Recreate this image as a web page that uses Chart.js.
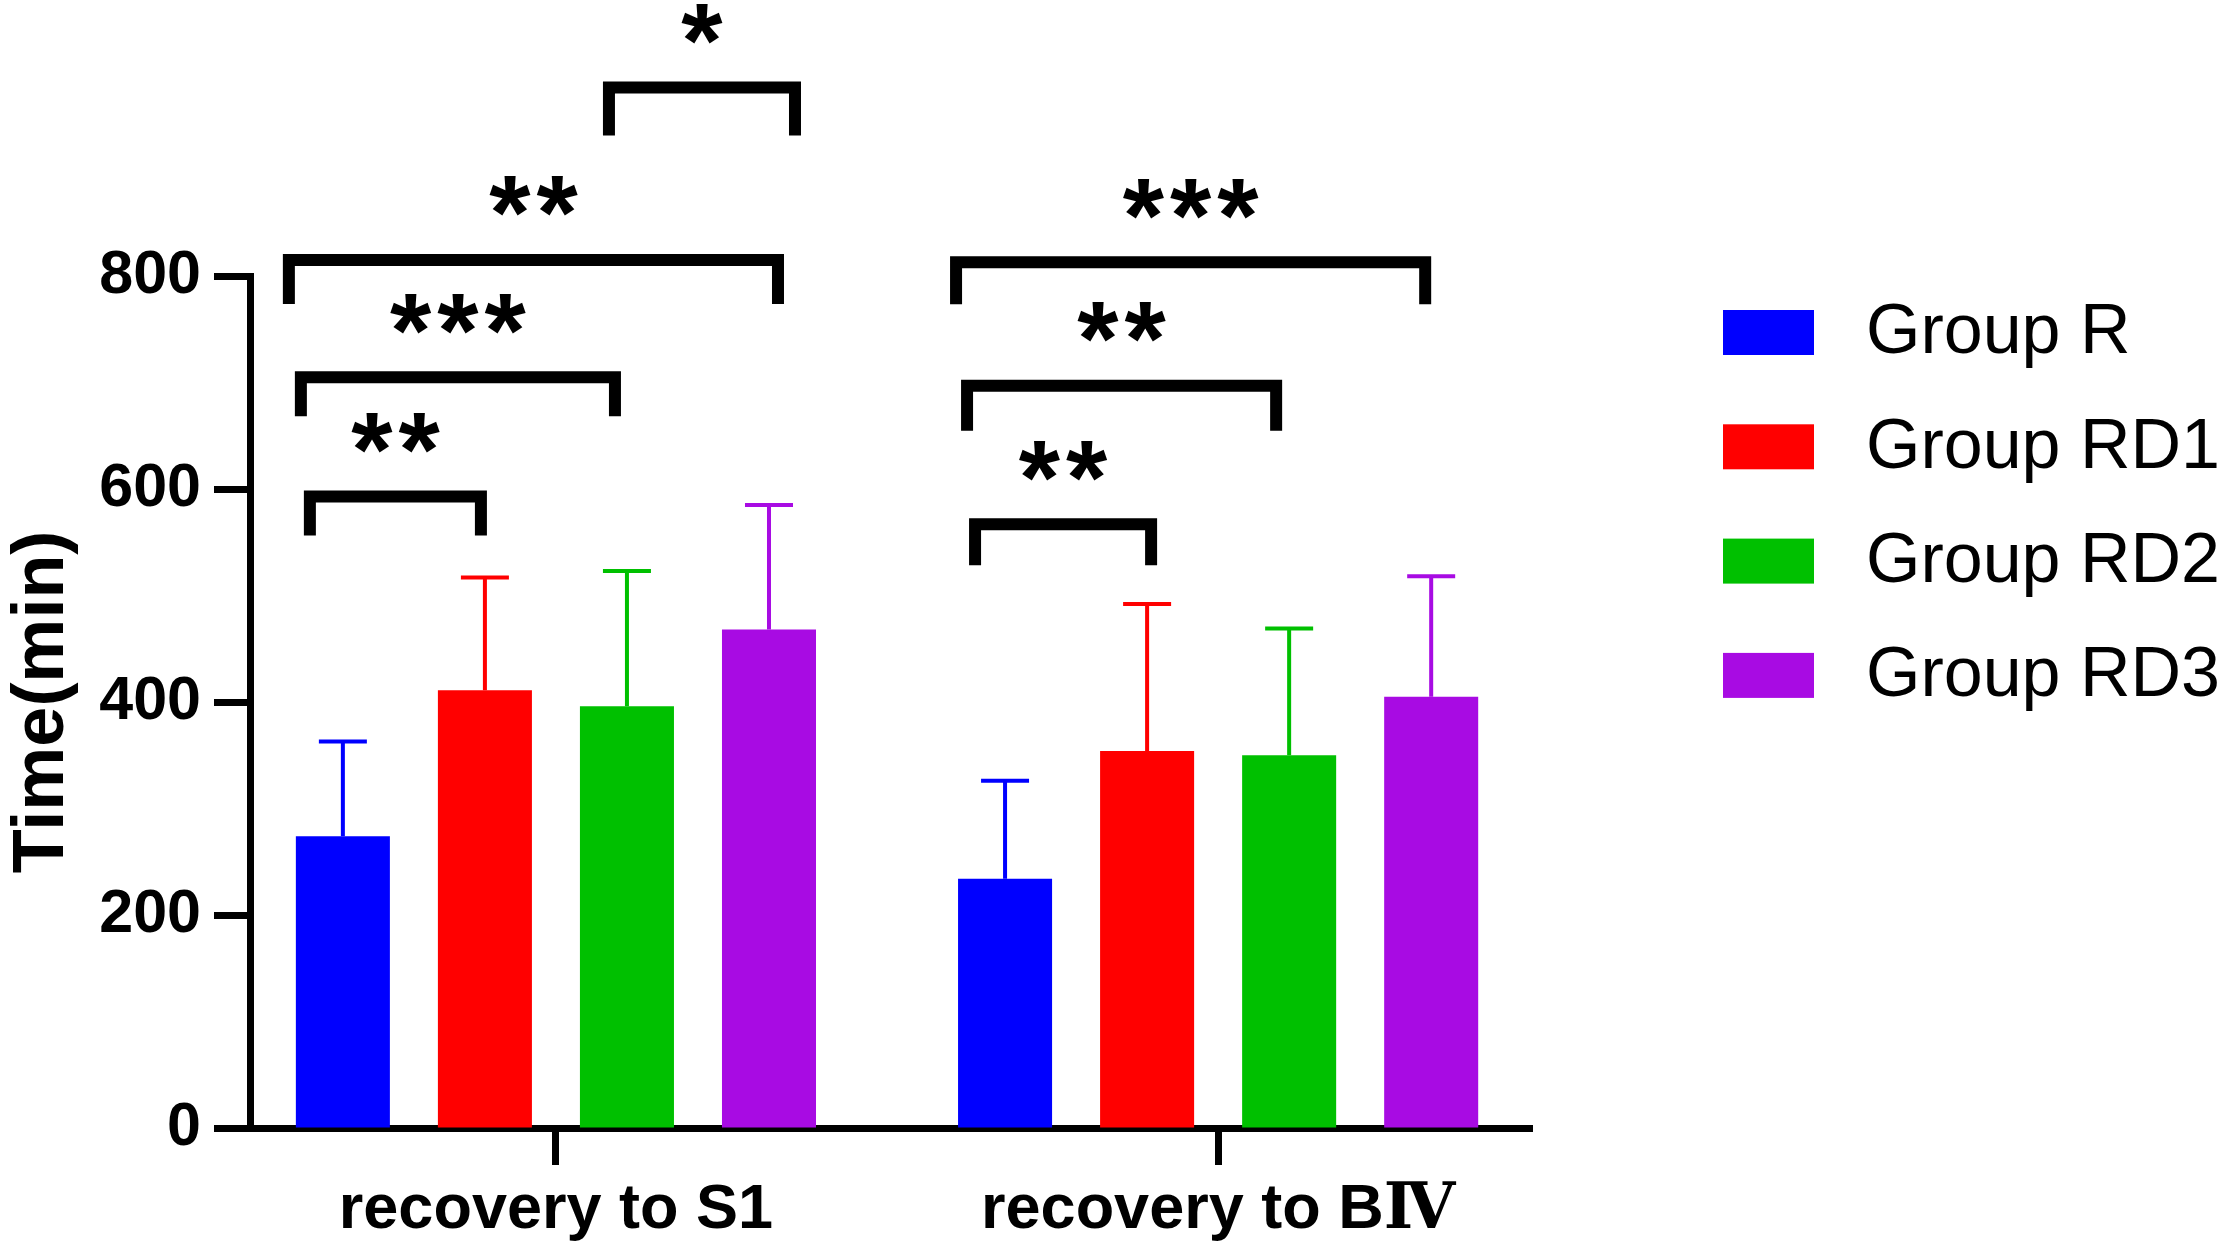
<!DOCTYPE html>
<html>
<head>
<meta charset="utf-8">
<script src="https://cdn.jsdelivr.net/npm/chart.js@4.4.1/dist/chart.umd.min.js"></script>
<style>
html, body { margin: 0; padding: 0; background: #fff; }
#wrap { width: 2228px; height: 1250px; }
</style>
</head>
<body>
<div id="wrap"><canvas id="chart" width="2228" height="1250"></canvas></div>
<script>
// Data
const categories = ['recovery to S1', 'recovery to BⅣ'];
const groupNames = ['Group R', 'Group RD1', 'Group RD2', 'Group RD3'];
const groupR = [274, 234];
const groupRD1 = [411, 354];
const groupRD2 = [396, 350];
const groupRD3 = [468, 405];
const sdR = [89, 92];
const sdRD1 = [106, 138];
const sdRD2 = [127, 119];
const sdRD3 = [117, 113];
const yTicks = [0, 200, 400, 600, 800];

// significance comparisons: category, group a, group b, label, bracket level (min)
const sigCategory = [0, 0, 0, 0, 1, 1, 1];
const sigFrom = [0, 0, 0, 2, 0, 0, 0];
const sigTo = [1, 2, 3, 3, 1, 2, 3];
const sigLabel = ['**', '***', '**', '*', '**', '**', '***'];
const sigLevel = [593, 705, 815, 977, 567, 697, 813];

const means = [groupR, groupRD1, groupRD2, groupRD3];
const sds = [sdR, sdRD1, sdRD2, sdRD3];
const colors = ['#0000ff', '#ff0000', '#00c000', '#a80be3'];

// bracket leg nudges (px) relative to bar centres, and leg drop
const legNudge = [[-33, -4], [-42, -12], [-54, 9], [-18, 26], [-30, 4], [-38, -13], [-49, -6]];
const legDrop = [39, 39, 44, 48, 41, 45, 42];

const FONT = "'Liberation Sans', 'DejaVu Serif', 'Noto Sans CJK SC', sans-serif";

const errorBars = {
    id: 'errorBars',
    afterDatasetsDraw(chart) {
        const ctx = chart.ctx;
        const y = chart.scales.y;
        ctx.save();
        means.forEach((m, i) => {
            const meta = chart.getDatasetMeta(i);
            meta.data.forEach((bar, j) => {
                const top = y.getPixelForValue(m[j] + sds[i][j]);
                ctx.strokeStyle = colors[i];
                ctx.lineWidth = 4;
                ctx.beginPath();
                ctx.moveTo(bar.x, bar.y);
                ctx.lineTo(bar.x, top);
                ctx.moveTo(bar.x - 24, top);
                ctx.lineTo(bar.x + 24, top);
                ctx.stroke();
            });
        });
        ctx.restore();
    }
};

const brackets = {
    id: 'brackets',
    afterDraw(chart) {
        const ctx = chart.ctx;
        const y = chart.scales.y;
        ctx.save();
        ctx.strokeStyle = '#000';
        ctx.fillStyle = '#000';
        ctx.lineWidth = 12;
        ctx.lineCap = 'butt';
        ctx.lineJoin = 'miter';
        sigLabel.forEach((lab, k) => {
            const c = sigCategory[k];
            const a = chart.getDatasetMeta(sigFrom[k]).data[c];
            const b = chart.getDatasetMeta(sigTo[k]).data[c];
            const x1 = a.x + legNudge[k][0];
            const x2 = b.x + legNudge[k][1];
            const yt = y.getPixelForValue(sigLevel[k]);
            const yb = yt + legDrop[k];
            ctx.beginPath();
            ctx.moveTo(x1, yb);
            ctx.lineTo(x1, yt);
            ctx.lineTo(x2, yt);
            ctx.lineTo(x2, yb);
            ctx.stroke();

            ctx.font = 'bold 106px ' + FONT;
            ctx.letterSpacing = '6px';
            ctx.textAlign = 'center';
            ctx.textBaseline = 'alphabetic';
            const cy = yt - 71;
            ctx.fillText(lab, (x1 + x2) / 2 + 3, cy + 0.57 * 106);
        });
        ctx.restore();
    }
};

const sideLegend = {
    id: 'sideLegend',
    afterDraw(chart) {
        const ctx = chart.ctx;
        ctx.save();
        ctx.font = '70px ' + FONT;
        ctx.textAlign = 'left';
        ctx.textBaseline = 'middle';
        chart.data.datasets.forEach((ds, i) => {
            const top = 310 + i * 114.3;
            ctx.fillStyle = ds.backgroundColor;
            ctx.fillRect(1723, top, 91, 45);
            ctx.fillStyle = '#000';
            ctx.fillText(ds.label, 1866, top + 24);
        });
        ctx.restore();
    }
};

const ctx = document.getElementById('chart').getContext('2d');
new Chart(ctx, {
    type: 'bar',
    data: {
        datasets: groupNames.map((name, i) => ({
            label: name,
            data: means[i].map((v, j) => ({ x: j, y: v })),
            backgroundColor: colors[i],
            borderWidth: 0,
            categoryPercentage: 0.858,
            barPercentage: 0.662
        }))
    },
    options: {
        responsive: false,
        animation: false,
        devicePixelRatio: 1,
        layout: { padding: { top: 276, right: 696, bottom: 0, left: 0 } },
        plugins: {
            legend: { display: false },
            tooltip: { enabled: false }
        },
        scales: {
            x: {
                type: 'linear',
                offset: false,
                min: -0.462,
                max: 1.474,
                afterFit(s) { s.height = 122; },
                afterBuildTicks(s) { s.ticks = categories.map((c, i) => ({ value: i })); },
                border: { display: true, color: '#000', width: 7 },
                grid: { offset: false, drawOnChartArea: false, drawTicks: true, tickLength: 37, tickWidth: 7, tickColor: '#000' },
                ticks: {
                    color: '#000', padding: 8, autoSkip: false, maxRotation: 0,
                    callback: v => categories[v],
                    font: { family: FONT, size: 63, weight: 'bold' }
                }
            },
            y: {
                min: 0,
                max: 800,
                afterFit(s) { s.width = 250; },
                afterBuildTicks(s) { s.ticks = yTicks.map(v => ({ value: v })); },
                border: { display: true, color: '#000', width: 7 },
                grid: { drawOnChartArea: false, drawTicks: true, tickLength: 36, tickWidth: 7, tickColor: '#000' },
                ticks: { color: '#000', padding: 13, font: { family: FONT, size: 61, weight: 'bold' } },
                title: { display: true, text: 'Time(min)', color: '#000', padding: 0, font: { family: FONT, size: 72, weight: 'bold' } }
            }
        }
    },
    plugins: [errorBars, brackets, sideLegend]
});
</script>
</body>
</html>
